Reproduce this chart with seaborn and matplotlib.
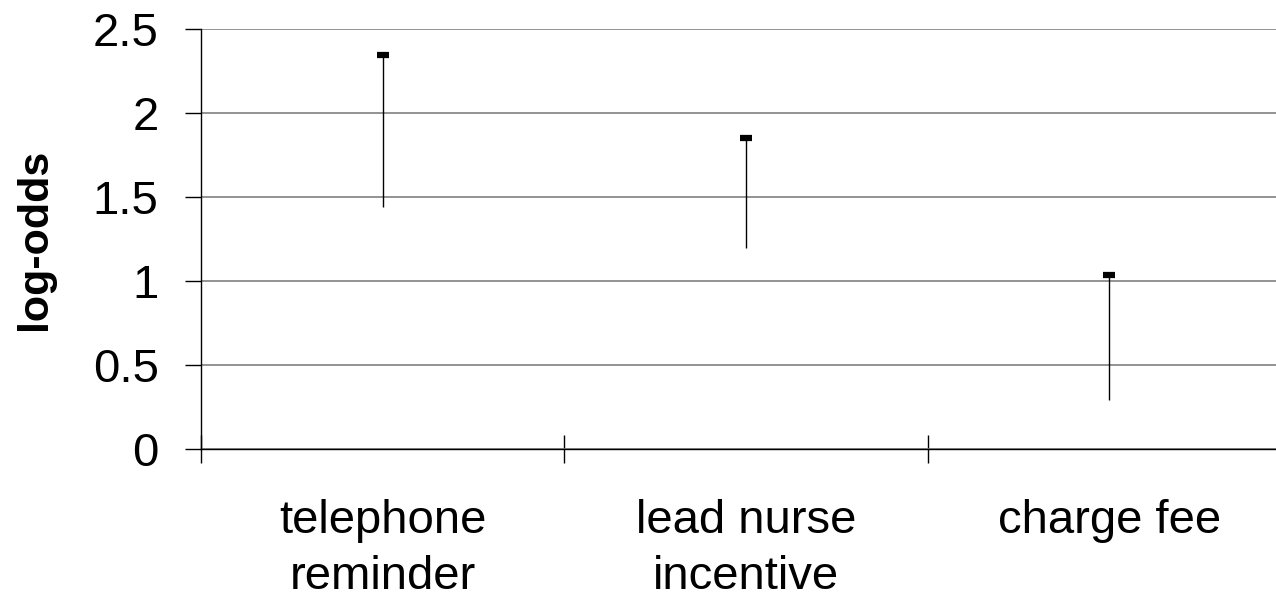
import matplotlib
matplotlib.use("Agg")
import matplotlib.pyplot as plt
import seaborn as sns
import pandas as pd
from matplotlib.ticker import FixedLocator

categories = ["telephone\nreminder", "lead nurse\nincentive", "charge fee"]
estimate = [2.345, 1.851, 1.036]
lower = [1.44, 1.196, 0.29]
yticks = [0, 0.5, 1, 1.5, 2, 2.5]
ytick_labels = ["0", "0.5", "1", "1.5", "2", "2.5"]

sns.set_theme(style="white")
plt.rcParams["font.family"] = ["Liberation Sans", "DejaVu Sans"]
plt.rcParams["text.color"] = "black"
plt.rcParams["xtick.color"] = "black"
plt.rcParams["ytick.color"] = "black"
plt.rcParams["axes.labelcolor"] = "black"

df = pd.DataFrame({"category": categories, "estimate": estimate, "lower": lower})

fig = plt.figure(figsize=(12.76, 6), dpi=100)
ax = fig.add_axes([201 / 1276, 151 / 600, 1090 / 1276, 420 / 600])

pos = list(range(len(categories)))
ax.vlines(pos, df["lower"], df["estimate"], color="black", linewidth=1.0, zorder=3)
sns.pointplot(data=df, x="category", y="estimate", linestyle="none", markers="_",
              color="black", ax=ax, zorder=4)
for line in ax.lines:
    line.set_markersize(9)
    line.set_markeredgewidth(4.5)
ax.set_xlim(-0.5, 2.5)
ax.set_ylim(0, 2.5)

ax.set_yticks(yticks)
ax.set_yticklabels(ytick_labels, fontsize=34)
ax.yaxis.grid(True, color="#808080", linewidth=1.2)
ax.set_axisbelow(True)
ax.tick_params(axis="y", direction="out", length=11.5, width=1, pad=19, left=True)

ax.set_xticks(pos)
ax.set_xticklabels(categories, fontsize=34, linespacing=1.36)
ax.tick_params(axis="x", which="major", length=0, pad=36)
ax.xaxis.set_minor_locator(FixedLocator([-0.5, 0.5, 1.5]))
ax.tick_params(axis="x", which="minor", direction="inout", length=19.5, width=1, bottom=True)

ax.set_xlabel("")
ax.set_ylabel("log-odds", fontsize=31, fontweight="bold", labelpad=27)

for s in ["top", "right"]:
    ax.spines[s].set_visible(False)
ax.spines["left"].set_color("black")
ax.spines["bottom"].set_color("black")
ax.spines["left"].set_linewidth(1)
ax.spines["bottom"].set_linewidth(1)

fig.savefig("out.png", dpi=100)
